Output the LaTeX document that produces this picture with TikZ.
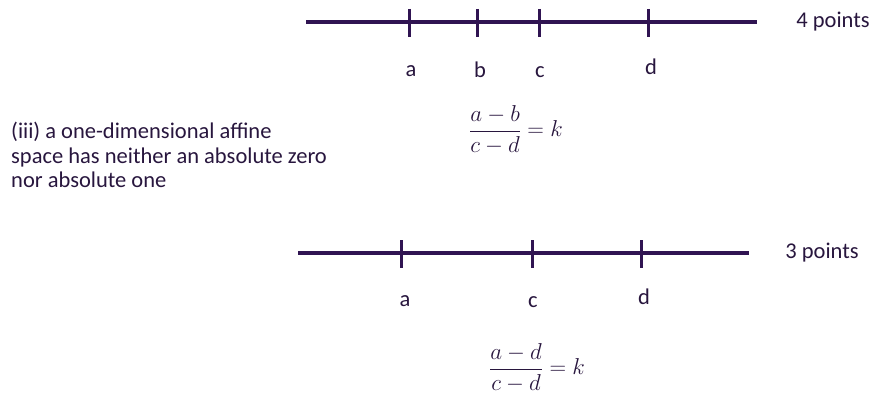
\RequirePackage{fix-cm}
\documentclass[tikz,border=0pt]{standalone}
\usepackage{fontspec}
\setmainfont{Carlito}
\definecolor{lin}{RGB}{48,20,82}
\definecolor{txt}{RGB}{40,22,62}
\tikzset{
  axis/.style={draw=lin, line width=3.6pt},
  tick/.style={draw=lin, line width=3pt},
  lbl/.style={text=txt, font=\fontsize{22.5}{27}\selectfont, inner sep=0pt},
  frac/.style={text=txt, font=\fontsize{23}{28}\selectfont, inner sep=0pt}
}
\begin{document}
\begin{tikzpicture}[x=1pt,y=-1pt]
\useasboundingbox (0,0) rectangle (873,396);
% top line
\coordinate (t0) at (306,22);
\coordinate (t1) at (757,22);
\draw[axis] (t0) -- (t1);
\foreach \n/\x in {ta/409,tb/477,tc/539,td/648}{
  \coordinate (\n1) at (\x,9);
  \coordinate (\n2) at (\x,37);
  \draw[tick] (\n1) -- (\n2);
}
\node[lbl] (la) at (411,71) {a};
\node[lbl] (lb) at (480,70) {b};
\node[lbl] (lc) at (540,72) {c};
\node[lbl] (ld) at (651,67) {d};
\node[lbl] (p4) at (833,22) {4 points};
\node[frac] (f1) at (516,130) {$\displaystyle\frac{a-b}{c-d}=k$};
% left text
\node[lbl, anchor=west, align=left, font=\fontsize{22.5}{24.5}\selectfont] (txt) at (11,155)
  {(iii) a one-dimensional affine\\space has neither an absolute zero\\nor absolute one};
% bottom line
\coordinate (b0) at (298,253);
\coordinate (b1) at (749,253);
\draw[axis] (b0) -- (b1);
\foreach \n/\x in {ba/401,bc/532,bd/641}{
  \coordinate (\n1) at (\x,240);
  \coordinate (\n2) at (\x,268);
  \draw[tick] (\n1) -- (\n2);
}
\node[lbl] (la2) at (405,301) {a};
\node[lbl] (lc2) at (533,302) {c};
\node[lbl] (ld2) at (644,297) {d};
\node[lbl] (p3) at (822,253) {3 points};
\node[frac] (f2) at (537,368) {$\displaystyle\frac{a-d}{c-d}=k$};
\end{tikzpicture}
\end{document}
